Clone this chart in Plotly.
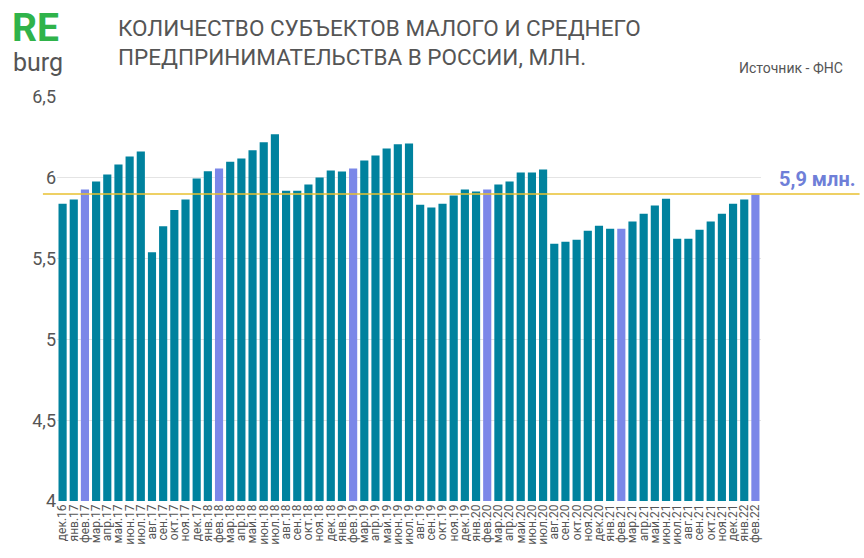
import plotly.graph_objects as go

months = ["дек.16",
          "янв.17", "фев.17", "мар.17", "апр.17", "май.17", "июн.17", "июл.17", "авг.17", "сен.17", "окт.17", "ноя.17", "дек.17",
          "янв.18", "фев.18", "мар.18", "апр.18", "май.18", "июн.18", "июл.18", "авг.18", "сен.18", "окт.18", "ноя.18", "дек.18",
          "янв.19", "фев.19", "мар.19", "апр.19", "май.19", "июн.19", "июл.19", "авг.19", "сен.19", "окт.19", "ноя.19", "дек.19",
          "янв.20", "фев.20", "мар.20", "апр.20", "май.20", "июн.20", "июл.20", "авг.20", "сен.20", "окт.20", "ноя.20", "дек.20",
          "янв.21", "фев.21", "мар.21", "апр.21", "май.21", "июн.21", "июл.21", "авг.21", "сен.21", "окт.21", "ноя.21", "дек.21",
          "янв.22", "фев.22"]

values = [5.84,
          5.865, 5.927, 5.977, 6.02, 6.083, 6.132, 6.163, 5.54, 5.70, 5.80, 5.865, 5.996,
          6.04, 6.058, 6.10, 6.12, 6.17, 6.22, 6.27, 5.92, 5.92, 5.958, 6.002, 6.045,
          6.039, 6.058, 6.107, 6.138, 6.182, 6.207, 6.213, 5.834, 5.816, 5.84, 5.89, 5.927,
          5.915, 5.927, 5.958, 5.977, 6.033, 6.033, 6.052, 5.592, 5.604, 5.617, 5.673, 5.704,
          5.685, 5.685, 5.729, 5.778, 5.828, 5.871, 5.623, 5.623, 5.679, 5.729, 5.778, 5.84,
          5.865, 5.896]

reference_level = 5.9
y_ticks = [4, 4.5, 5, 5.5, 6, 6.5]
y_tick_labels = ["4", "4,5", "5", "5,5", "6", "6,5"]

TEAL = "#00829e"
PURPLE = "#7b87e8"
colors = [PURPLE if m.startswith("фев") else TEAL for m in months]

fig = go.Figure()
fig.add_trace(go.Bar(x=months, y=values, marker=dict(color=colors, line=dict(width=0)),
                     hoverinfo="x+y"))

fig.add_shape(type="line", xref="paper", yref="y", x0=-0.02, x1=1.14,
              y0=reference_level, y1=reference_level,
              line=dict(color="#e8c030", width=1.5), layer="above")

fig.add_annotation(xref="paper", yref="y", x=1.138, y=reference_level, yshift=15,
                   xanchor="right", yanchor="middle", showarrow=False,
                   text="<b>5,9 млн.</b>", font=dict(family="Roboto", size=20, color="#6f7fd8"))

# Logo
fig.add_annotation(xref="paper", yref="paper", x=(11 - 57) / 704, y=1.0, xanchor="left", yanchor="middle",
                   yshift=69, showarrow=False, text="<b>RE</b>", borderpad=0,
                   font=dict(family="Roboto", size=39, color="#2fb34a"))
fig.add_annotation(xref="paper", yref="paper", x=(12 - 57) / 704, y=1.0, xanchor="left", yanchor="middle",
                   yshift=35, showarrow=False, text="burg", borderpad=0,
                   font=dict(family="Roboto", size=25, color="#555555"))

# Title
fig.add_annotation(xref="paper", yref="paper", x=(116 - 57) / 704, y=1.0, xanchor="left", yanchor="middle",
                   yshift=55, showarrow=False, align="left",
                   text="КОЛИЧЕСТВО СУБЪЕКТОВ МАЛОГО И СРЕДНЕГО<br>ПРЕДПРИНИМАТЕЛЬСТВА В РОССИИ, МЛН.",
                   font=dict(family="Roboto", size=22.5, color="#555555"))

fig.add_annotation(xref="paper", yref="paper", x=1.12, y=1.0, xanchor="right", yanchor="middle",
                   yshift=29, showarrow=False, text="Источник - ФНС",
                   font=dict(family="Roboto", size=14, color="#555555"))

fig.update_layout(
    width=864, height=558,
    margin=dict(l=57, r=103, t=97, b=57),
    paper_bgcolor="white", plot_bgcolor="white",
    bargap=0.27,
    showlegend=False,
    xaxis=dict(tickangle=-90, tickmode="array", tickvals=months, ticktext=months,
               tickfont=dict(family="Roboto", size=12, color="#555555"),
               showgrid=False, showline=False, ticks="", automargin=False),
    yaxis=dict(range=[4, 6.5], tickvals=y_ticks, ticktext=y_tick_labels,
               tickfont=dict(family="Roboto", size=18, color="#555555"),
               showgrid=True, gridcolor="#e4e4e4", gridwidth=1, zeroline=False,
               ticks="", ticklen=0, automargin=False),
)

fig.write_html("out.html")
